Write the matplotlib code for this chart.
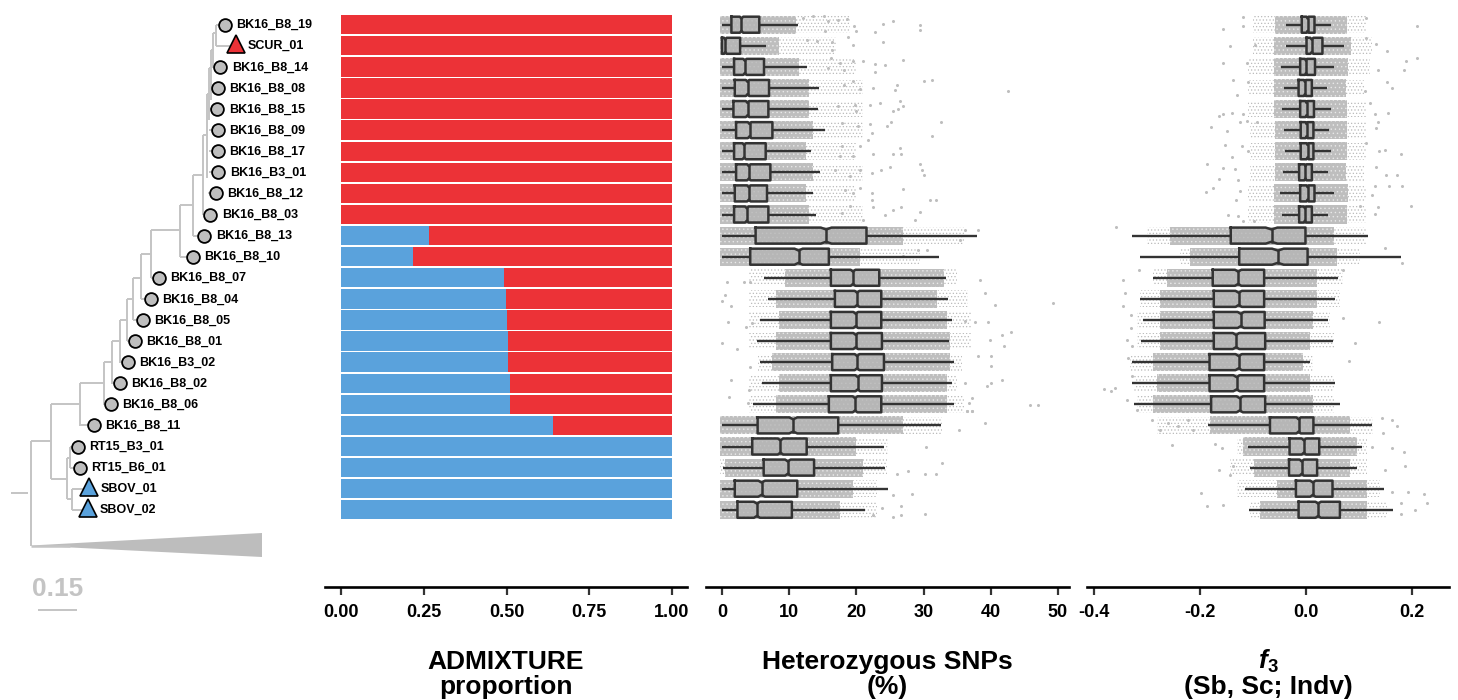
import numpy as np
import matplotlib
matplotlib.use('Agg')
import matplotlib.pyplot as plt

plt.rcParams['font.family'] = ['Liberation Sans', 'DejaVu Sans']
plt.rcParams['mathtext.fontset'] = 'custom'
plt.rcParams['mathtext.bfit'] = 'Liberation Sans:italic:bold'
plt.rcParams['mathtext.bf'] = 'Liberation Sans:bold'
plt.rcParams['hatch.linewidth'] = 0.5

samples = ['BK16_B8_19', 'SCUR_01', 'BK16_B8_14', 'BK16_B8_08', 'BK16_B8_15', 'BK16_B8_09',
           'BK16_B8_17', 'BK16_B3_01', 'BK16_B8_12', 'BK16_B8_03', 'BK16_B8_13', 'BK16_B8_10',
           'BK16_B8_07', 'BK16_B8_04', 'BK16_B8_05', 'BK16_B8_01', 'BK16_B3_02', 'BK16_B8_02',
           'BK16_B8_06', 'BK16_B8_11', 'RT15_B3_01', 'RT15_B6_01', 'SBOV_01', 'SBOV_02']

# tree, in picture pixels
tip_x = [225, 236, 220.5, 218, 217.5, 218, 218, 218.5, 216, 210.5, 204.5, 193,
         159, 151, 143, 135, 128, 120, 111, 94, 78, 80, 89, 88]
tip_parent_x = [216, 216, 211, 209, 209, 209, 209, 209, 208, 204, 193, 180,
                151, 141, 133, 127, 120, 112, 104, 80, 70, 70, 72, 72]
vert_x = [31, 51.5, 80, 104, 112, 120, 127, 133, 141, 151, 180, 193, 203.5, 207.5, 209, 211, 213, 216, 67, 70, 72]
vert_y0 = [441, 404, 383, 362, 341, 320, 299, 278, 254, 230, 205, 175, 135, 94, 68, 50, 33, 25, 458, 447, 489]
vert_y1 = [546, 479, 426, 405, 384, 363, 341, 320, 299, 278, 257, 236, 215, 178, 120, 100, 68, 46, 499, 468, 510]
hor_y = [493, 441, 404, 383, 362, 341, 320, 299, 278, 254, 230, 205, 175, 135, 94, 68, 50, 33, 479, 458, 499]
hor_x0 = [11, 31, 51.5, 80, 104, 112, 120, 127, 133, 141, 151, 180, 193, 203.5, 207.5, 209, 211, 213, 51.5, 67, 67]
hor_x1 = [28, 51.5, 80, 104, 112, 120, 127, 133, 141, 151, 180, 193, 203.5, 207.5, 209, 211, 213, 216, 67, 70, 72]
wedge_x = [31, 262, 262]
wedge_y = [545.5, 533, 557]

# admixture
blue_share = [0, 0, 0, 0, 0, 0, 0, 0, 0, 0, 0.266, 0.218, 0.492, 0.498, 0.502, 0.505,
              0.505, 0.511, 0.511, 0.64, 1, 1, 1, 1]
admix_ticks = [0, 0.25, 0.5, 0.75, 1]
admix_labels = ['0.00', '0.25', '0.50', '0.75', '1.00']

# heterozygous SNPs
het_q1 = [1.4, 0, 1.8, 1.9, 1.7, 2.1, 1.8, 2.1, 1.9, 1.8, 5.0, 4.2, 16.2, 16.8, 16.2, 16.2, 16.4, 16.2, 15.9, 5.3, 4.5, 6.2, 1.9, 2.3]
het_med = [2.9, 0.5, 3.4, 3.8, 3.8, 4.1, 3.3, 4.0, 4.0, 3.7, 15.5, 11.4, 19.5, 20.1, 19.9, 19.9, 20.1, 20.2, 19.8, 10.6, 8.7, 9.8, 5.9, 5.2]
het_q3 = [5.55, 2.7, 6.25, 7.0, 6.9, 7.5, 6.5, 7.2, 6.7, 6.9, 21.5, 15.9, 23.4, 23.7, 23.7, 23.8, 24.1, 23.8, 23.7, 17.3, 12.6, 13.7, 11.2, 10.4]
het_lo = [0, 0, 0, 0, 0, 0, 0, 0, 0, 0, 0, 0, 6.2, 6.8, 5.6, 5.2, 5.6, 6.0, 4.6, 0, 0, 0.1, 0, 0]
het_hi = [11.3, 6.5, 12.6, 14.4, 14.3, 15.4, 13.2, 14.6, 13.5, 14.0, 37.9, 32.3, 33.3, 33.6, 34.3, 33.8, 34.5, 34.3, 34.5, 32.6, 24.1, 24.3, 24.7, 21.3]
het_notch = [.25, .2, .25, .25, .25, .25, .25, .25, .25, .25, .8, .6, .35, .35, .35, .35, .35, .35, .35, .6, .4, .4, .5, .45]
het_dense_lo = [-.3, -.3, -.3, -.3, -.3, -.3, -.3, -.3, -.3, -.3, -.3, -.3, 9.4, 8, 8.5, 8, 7.5, 8.5, 8, -.3, -.3, 0.5, -.3, -.3]
het_dense_hi = [11, 8.5, 11.5, 13, 13, 13.5, 12.5, 13.5, 12.5, 13, 27, 20.5, 33, 32, 33.5, 34, 34, 33.5, 33.5, 27, 20, 21, 19.5, 17.5]
het_cloud_lo = [-.3, -.3, -.3, -.3, -.3, -.3, -.3, -.3, -.3, -.3, -.3, -.3, 4, 4, 4, 4, 5.4, 4, 4, -.3, -.3, -.3, -.3, -.3]
het_cloud_hi = [19, 17, 20, 21, 21, 21, 20, 21, 20, 21, 36, 29.5, 35, 36.6, 37, 37, 35.7, 35, 36, 32.7, 24.7, 24.5, 23, 23]
het_ticks = [0, 10, 20, 30, 40, 50]
het_out_x = [12.1, 13.6, 15.2, 15.8, 17.3, 18.6, 15.3, 19.7, 20.0, 24.0, 25.5, 22.8, 29.4, 29.5,
             18.8, 19.5, 24, 16.3, 14.1, 12.6, 16.3,
             16.2, 17.6, 19.5, 21, 22.8, 24.2, 27, 22.8, 18.1, 15.8,
             30, 31.2, 42.5, 26, 25.7, 26.5, 22.5, 20.5, 19.5, 18.1,
             27, 26.2, 25.5, 23.5, 22, 19.8, 17.3, 20,
             32.6, 31.2, 25.2, 24.5, 22, 22.3, 20.3, 17.8, 21.8,
             26.5, 26.7, 25.5, 22.5, 20.5, 19.5, 17.6, 17.8,
             29.5, 29.7, 30.1, 25, 23.7, 22.3, 20.5, 19, 16.8,
             27, 30.9, 31.9, 22.3, 22.3, 20.5, 19.5, 18.3,
             29.5, 26.7, 25.5, 24.3, 22.5, 21, 19, 17.8, 28.7,
             36.2, 38.1, 35.4, 30.5, 29.2, 27,
             49.2, 47, 40.6, 39.1, 38.4, 43, 41.7, 41.9, 39.9, 39.6, 37.6, 36.2, 40.1, 40.1, 38.1,
             41.6, 40.1, 39.4, 36.2, 37.2, 36.4, 37.2,
             0.8, 3.2, 4.2, 0.4, 0, 1.3, 0.9, 3.5, 4.4, 0, 2.2, 4.2, 1.3, 4, 1, 3.9,
             45.9, 36.7, 36.4, 37.2, 39.2, 35.2, 30.3, 32.7, 26, 27.7, 30.2, 31.9, 28.3, 25.5,
             30.2, 26.6, 26.6, 25.5, 23.8, 22.5]
het_out_row = [-.32, -.39, -.43, -.16, -.24, -.27, .32, .08, .32, -.05, -.16, .36, 0, .24,
               .58, .95, .84, .84, .79, .71, 1.18,
               1.58, 1.82, 1.74, 1.74, 1.85, 1.90, 1.66, 2.26, 2.13, 2.05,
               2.69, 2.64, 3.16, 2.84, 3.08, 3.63, 3.0, 3.05, 2.69, 2.84,
               3.87, 4.0, 4.11, 3.71, 3.79, 3.79, 3.87, 4.11,
               4.63, 5.26, 4.63, 4.79, 4.69, 5.13, 4.79, 4.66, 5.45,
               5.85, 6.11, 6.11, 6.11, 5.77, 6.24, 6.24, 5.77,
               6.6, 6.87, 7.11, 6.76, 6.87, 7.03, 6.87, 7.19, 6.87,
               7.77, 8.33, 8.29, 7.98, 8.29, 7.74, 7.98, 7.82,
               8.89, 8.64, 8.77, 9.0, 8.64, 9.24, 8.61, 8.93, 9.24,
               9.72, 9.75, 10.19, 10.66, 10.66, 10.98,
               13.2, 18.05, 13.28, 12.72, 12.09, 14.59, 14.7, 15.25, 14.94, 14.1, 14.1, 14.07, 15.73, 16.2, 15.73,
               16.83, 17, 17.15, 17, 17.7, 18.34, 18.34,
               12.22, 12.22, 12.22, 12.8, 13.12, 13.36, 14.11, 14.35, 14.15, 15.09, 15.38, 16.25, 16.87, 17.31, 17.65, 17.94,
               18.02, 17.94, 18.33, 18.33, 18.89, 19.2, 20, 20.78, 21.29, 21.18, 21.29, 21.29, 22.24, 22.28,
               23.2, 22.84, 23.23, 23.34, 22.92, 23.23]

# f3
f3_q1 = [-.008, .001, -.011, -.014, -.011, -.010, -.010, -.013, -.011, -.013, -.142, -.126, -.176, -.174, -.174, -.174, -.182, -.182, -.179, -.068, -.031, -.032, -.019, -.014]
f3_med = [.003, .011, 0, -.002, .001, .001, .003, -.001, .003, -.002, -.065, -.053, -.128, -.127, -.123, -.132, -.127, -.131, -.125, -.014, -.004, -.008, .013, .023]
f3_q3 = [.016, .031, .017, .011, .015, .014, .014, .011, .016, .011, -.001, .003, -.079, -.079, -.078, -.077, -.079, -.079, -.077, .014, .025, .021, .05, .064]
f3_lo = [-.038, -.038, -.047, -.042, -.045, -.042, -.04, -.043, -.049, -.046, -.329, -.313, -.288, -.313, -.308, -.311, -.328, -.328, -.324, -.185, -.109, -.105, -.116, -.107]
f3_hi = [.047, .072, .052, .039, .047, .043, .047, .042, .053, .042, .117, .18, .061, .055, .041, .051, .008, .054, .064, .125, .105, .096, .147, .164]
f3_notch = [.002, .003, .002, .002, .002, .002, .002, .002, .002, .002, .011, .011, .006, .006, .006, .006, .006, .006, .006, .004, .004, .004, .005, .005]
f3_dense_lo = [-.058, -.06, -.06, -.06, -.06, -.058, -.058, -.058, -.06, -.06, -.257, -.219, -.263, -.275, -.275, -.275, -.288, -.282, -.288, -.181, -.118, -.099, -.055, -.087]
f3_dense_hi = [.077, .085, .08, .075, .077, .077, .077, .075, .08, .077, .052, .058, .02, .02, .014, .008, -.005, .008, .014, .083, .096, .083, .115, .115]
f3_cloud_lo = [-.1, -.1, -.11, -.11, -.11, -.106, -.106, -.106, -.11, -.11, -.30, -.238, -.288, -.313, -.319, -.319, -.332, -.325, -.319, -.282, -.13, -.143, -.13, -.105]
f3_cloud_hi = [.114, .125, .12, .11, .114, .114, .114, .11, .114, .114, .114, .102, .07, .064, .045, .052, .014, .052, .052, .127, .115, .115, .14, .152]
f3_ticks = [-0.4, -0.2, 0.0, 0.2]
f3_out_x = [-.118, -.156, -.119, .114, .21, -.143, -.096, .133, .152, .114,
            -.157, -.112, .189, .21, .184, .136, -.137, -.131, -.109, .152, .163, .111,
            -.156, -.139, -.165, -.119, .121, .155, .13,
            -.179, -.15, -.125, -.112, -.093, .136, .132,
            -.153, -.121, -.139, -.109, .18, .149, .138, .114,
            -.186, -.157, -.134, -.164, -.128, .132, .15, .171,
            -.189, -.176, -.125, -.132, .13, .157, .182, .124,
            -.148, -.128, -.118, -.099, .199, .131, .136, .102,
            -.358, .182, .149, -.345, -.316, -.342, -.345, .07, -.331, -.331, .07, .138,
            -.338, -.329, .092, -.335, .082, -.382, -.36, -.367, -.329, -.338, -.319, -.291,
            -.275, -.26, -.241, -.213, -.222, .143, .163, .171, .146,
            -.252, -.172, -.159, .185, .162, .124, -.165, -.143, -.137, .187, .149,
            -.198, .193, .223, .162, -.186, -.156, .229, .206, .179, .179]
f3_out_row = [-.35, .19, .08, -.32, .08, 1.03, .98, .92, 1.26, .63,
              1.82, 1.82, 1.74, 1.58, 2.13, 2.13, 2.64, 3.32, 2.72, 2.72, 3.0, 3.16,
              4.23, 4.19, 4.34, 4.23, 3.71, 4.19, 4.23,
              4.87, 5.02, 4.61, 4.58, 4.61, 4.61, 4.9,
              5.72, 5.77, 6.29, 6, 6.13, 5.93, 6, 5.61,
              6.59, 6.79, 6.83, 7.3, 7.35, 6.75, 7.11, 7.11,
              7.93, 7.74, 7.9, 8.3, 7.63, 7.66, 7.66, 8.09,
              9.04, 9.09, 9.32, 9.32, 8.61, 8.98, 8.64, 8.61,
              9.61, 11.3, 10.59, 12.09, 11.62, 12.73, 13.36, 11.62, 13.75, 14.38, 13.91, 14.1,
              14.94, 15.25, 15.1, 15.81, 15.93, 17.28, 17.23, 17.39, 16.68, 17.78, 18.26, 18.73,
              19.21, 18.89, 19.05, 19.21, 18.73, 18.65, 18.76, 19.05, 19.36,
              19.92, 19.87, 20.07, 20.28, 20.07, 20, 21.13, 21.34, 20.94, 20.94, 21.1,
              22.21, 22.16, 22.24, 22.18, 22.84, 22.76, 22.68, 23.03, 22.68, 23.19]

red = '#EC3237'
blue = '#5AA2DC'
grey = '#BEBEBE'
dark = '#333333'

W, H = 1458., 700.
row0_px, row_px = 24.7, 21.09
axis_px = 587.


def panel(left, right, xlim):
    ax = plt.gcf().add_axes([left/W, 1-axis_px/H, (right-left)/W, axis_px/H])
    ax.set_xlim(xlim)
    ax.set_ylim((axis_px-row0_px)/row_px, -row0_px/row_px)
    ax.patch.set_alpha(0)
    for s in ['top', 'left', 'right']:
        ax.spines[s].set_visible(False)
    ax.spines['bottom'].set_linewidth(1.9)
    ax.set_yticks([])
    ax.tick_params(axis='x', length=6, width=1.6, color=dark, pad=6, labelsize=13)
    return ax


def notched_box(ax, y, q1, med, q3, lo, hi, notch):
    h = 0.38
    d = 0.09
    ax.plot([lo, q1], [y, y], color=dark, lw=1.7, solid_capstyle='butt', zorder=3)
    ax.plot([q3, hi], [y, y], color=dark, lw=1.7, solid_capstyle='butt', zorder=3)
    n0, n1 = max(med-notch, q1), min(med+notch, q3)
    xs = [q1, n0, med, n1, q3, q3, n1, med, n0, q1, q1]
    ys = [y-h, y-h, y-h+d, y-h, y-h, y+h, y+h, y+h-d, y+h, y+h, y-h]
    ax.fill(xs, ys, facecolor='#B4B4B4', alpha=0.75, edgecolor='none', zorder=3)
    ax.plot(xs, ys, color=dark, lw=1.8, solid_joinstyle='round', zorder=4)
    ax.plot([med, med], [y-h+d, y+h-d], color=dark, lw=1.8, zorder=4)


def cloud(ax, rows, d_lo, d_hi, c_lo, c_hi, out_x, out_row):
    ax.barh(rows, np.array(c_hi)-np.array(c_lo), left=c_lo, height=0.8, facecolor='none',
            edgecolor='#BABABA', hatch='.....', linewidth=0, zorder=1)
    ax.barh(rows, np.array(d_hi)-np.array(d_lo), left=d_lo, height=0.86, facecolor='#BEBEBE',
            edgecolor='#E8E8E8', hatch='....', linewidth=0, zorder=1)
    ax.plot(out_x, out_row, ls='none', marker='o', ms=2.2, mew=0, color='#BEBEBE', zorder=2)


def main():
    fig = plt.figure(figsize=(W/100, H/100), dpi=100)
    rows = np.arange(len(samples))
    row_y = row0_px + row_px*rows

    # tree
    ax = fig.add_axes([0, 0, 1, 1])
    ax.set_xlim(0, W)
    ax.set_ylim(H, 0)
    ax.axis('off')
    tree_c = '#C4C4C4'
    ax.vlines(vert_x, vert_y0, vert_y1, color=tree_c, lw=1.4)
    ax.hlines(hor_y, hor_x0, hor_x1, color=tree_c, lw=1.4)
    ax.hlines(row_y, tip_parent_x, tip_x, color=tree_c, lw=1.4)
    ax.fill(wedge_x, wedge_y, color='#BDBDBD', lw=0)
    ax.hlines(546, 31, 70, color=tree_c, lw=1.8)
    for i, name in enumerate(samples):
        if name == 'SCUR_01':
            ax.plot(tip_x[i], row_y[i]-2, marker='^', ms=13.5, mfc=red, mec='k', mew=1.2)
        elif name.startswith('SBOV'):
            ax.plot(tip_x[i], row_y[i]-2, marker='^', ms=13.5, mfc=blue, mec='k', mew=1.2)
        else:
            ax.plot(tip_x[i], row_y[i], marker='o', ms=9.2, mfc=grey, mec='k', mew=1.3)
        ax.text(tip_x[i]+11.5, row_y[i]+0.5, name, fontsize=9, fontweight='bold', va='center', ha='left')
    ax.text(57.5, 589, '0.15', color=tree_c, fontsize=19, fontweight='bold', ha='center', va='center')
    ax.hlines(610, 38, 77, color=tree_c, lw=1.4)

    # admixture
    ax = panel(325, 687, ((325-341)/331., (687-341)/331.))
    red_share = 1-np.array(blue_share)
    ax.barh(rows, blue_share, height=0.92, color=blue, lw=0)
    ax.barh(rows, red_share, left=blue_share, height=0.92, color=red, lw=0)
    ax.set_xticks(admix_ticks)
    ax.set_xticklabels(admix_labels, fontweight='bold')
    ax.set_xlabel('ADMIXTURE\nproportion', fontsize=19, fontweight='bold', labelpad=21, linespacing=1.04)

    # heterozygosity
    ax = panel(706, 1069, ((706-722)/6.72, (1069-722)/6.72))
    cloud(ax, rows, het_dense_lo, het_dense_hi, het_cloud_lo, het_cloud_hi, het_out_x, het_out_row)
    for i in rows:
        notched_box(ax, i, het_q1[i], het_med[i], het_q3[i], het_lo[i], het_hi[i], het_notch[i])
    ax.set_xticks(het_ticks)
    ax.set_xticklabels([str(t) for t in het_ticks], fontweight='bold')
    ax.set_xlabel('Heterozygous SNPs\n(%)', fontsize=19, fontweight='bold', labelpad=21, linespacing=1.04)

    # f3
    ax = panel(1087, 1449, ((1087-1306)/530., (1449-1306)/530.))
    cloud(ax, rows, f3_dense_lo, f3_dense_hi, f3_cloud_lo, f3_cloud_hi, f3_out_x, f3_out_row)
    for i in rows:
        notched_box(ax, i, f3_q1[i], f3_med[i], f3_q3[i], f3_lo[i], f3_hi[i], f3_notch[i])
    ax.set_xticks(f3_ticks)
    ax.set_xticklabels(['%.1f' % t for t in f3_ticks], fontweight='bold')
    ax.set_xlabel('$\\mathbfit{f}_{\\mathbf{3}}$\n(Sb, Sc; Indv)', fontsize=19, fontweight='bold', labelpad=19, linespacing=1.04)

    fig.savefig('out.png', dpi=100)
    plt.close(fig)


if __name__ == "__main__":
    main()
